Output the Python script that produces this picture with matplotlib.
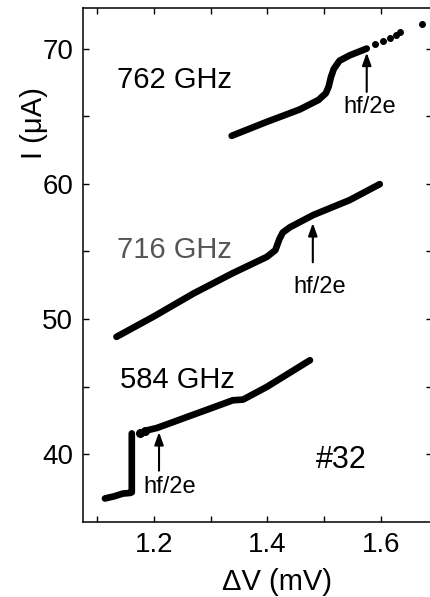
import matplotlib
matplotlib.use("Agg")
import matplotlib.pyplot as plt

plt.rcParams['font.family'] = ['Liberation Sans', 'DejaVu Sans']

# 762 GHz branch (dense part, then sparse dots)
v762 = [1.337, 1.40, 1.457, 1.490, 1.503, 1.508, 1.512, 1.517, 1.527, 1.545, 1.575]
i762 = [63.55, 64.6, 65.5, 66.2, 66.7, 67.2, 67.9, 68.5, 69.1, 69.5, 70.0]
v762_dots = [1.589, 1.604, 1.616, 1.626, 1.634, 1.672]
i762_dots = [70.37, 70.59, 70.81, 71.04, 71.19, 71.85]

# 716 GHz branch
v716 = [1.134, 1.20, 1.27, 1.339, 1.399, 1.414, 1.421, 1.427, 1.44, 1.481, 1.545, 1.598]
i716 = [48.69, 50.2, 51.9, 53.4, 54.6, 55.1, 55.9, 56.4, 56.8, 57.7, 58.8, 59.98]

# 584 GHz branch: low part with vertical jump, then upper part
v584_lo = [1.1137, 1.13, 1.145, 1.158, 1.161, 1.161]
i584_lo = [36.74, 36.9, 37.1, 37.15, 37.2, 41.55]
v584_dots = [1.175, 1.184]
i584_dots = [41.55, 41.7]
v584_hi = [1.19, 1.205, 1.23, 1.258, 1.30, 1.339, 1.357, 1.399, 1.475]
i584_hi = [41.8, 41.95, 42.33, 42.76, 43.4, 44.0, 44.05, 44.99, 46.96]

# hf/2e arrows: x, tail y, tip y
arrow_v = [1.575, 1.480, 1.209]
arrow_tail = [66.8, 54.2, 38.8]
arrow_tip = [69.7, 57.1, 41.65]

fig = plt.figure(figsize=(4.3, 5.97), dpi=100)
ax = fig.add_axes([0.193, 0.1256, 0.8116, 0.861])

lw = 4.8
style = dict(color='k', lw=lw, solid_capstyle='round', solid_joinstyle='round')
ax.plot(v762, i762, **style)
ax.plot(v762_dots, i762_dots, 'o', color='k', ms=4)
ax.plot(v716, i716, **style)
ax.plot(v584_lo, i584_lo, **style)
ax.plot(v584_dots, i584_dots, 'o', color='k', ms=5.5)
ax.plot(v584_hi, i584_hi, **style)

for x, y0, y1 in zip(arrow_v, arrow_tail, arrow_tip):
    ax.annotate('', xy=(x, y1), xytext=(x, y0),
                arrowprops=dict(arrowstyle='-|>,head_length=0.5,head_width=0.18',
                                lw=1.5, color='k', mutation_scale=15, shrinkA=0, shrinkB=0))

ax.text(1.135, 67.7, '762 GHz', fontsize=21, va='center', ha='left')
ax.text(1.135, 55.1, '716 GHz', fontsize=21, va='center', ha='left', color='#555555')
ax.text(1.140, 45.5, '584 GHz', fontsize=21, va='center', ha='left')
ax.text(1.485, 39.56, '#32', fontsize=22, va='center', ha='left')
ax.text(1.533, 65.7, 'hf/2e', fontsize=17, va='center', ha='left')
ax.text(1.445, 52.4, 'hf/2e', fontsize=17, va='center', ha='left')
ax.text(1.181, 37.56, 'hf/2e', fontsize=17, va='center', ha='left')

ax.set_xlim(1.075, 1.69)
ax.set_ylim(35, 73)
ax.set_xticks([1.2, 1.4, 1.6])
ax.set_xticks([1.1, 1.3, 1.5], minor=True)
ax.set_yticks([40, 50, 60, 70])
ax.set_yticks([45, 55, 65], minor=True)
ax.tick_params(which='both', direction='in', top=True, right=True, length=4, width=1, labelsize=20, pad=7)
for s in ax.spines.values():
    s.set_linewidth(1.1)

ax.set_xlabel('\u0394V (mV)', fontsize=21)
ax.set_ylabel('I (\u03bcA)', fontsize=21)
ax.xaxis.set_label_coords(0.556, -0.09)
ax.yaxis.set_label_coords(-0.10, 0.776)

fig.savefig('out.png', dpi=100)
